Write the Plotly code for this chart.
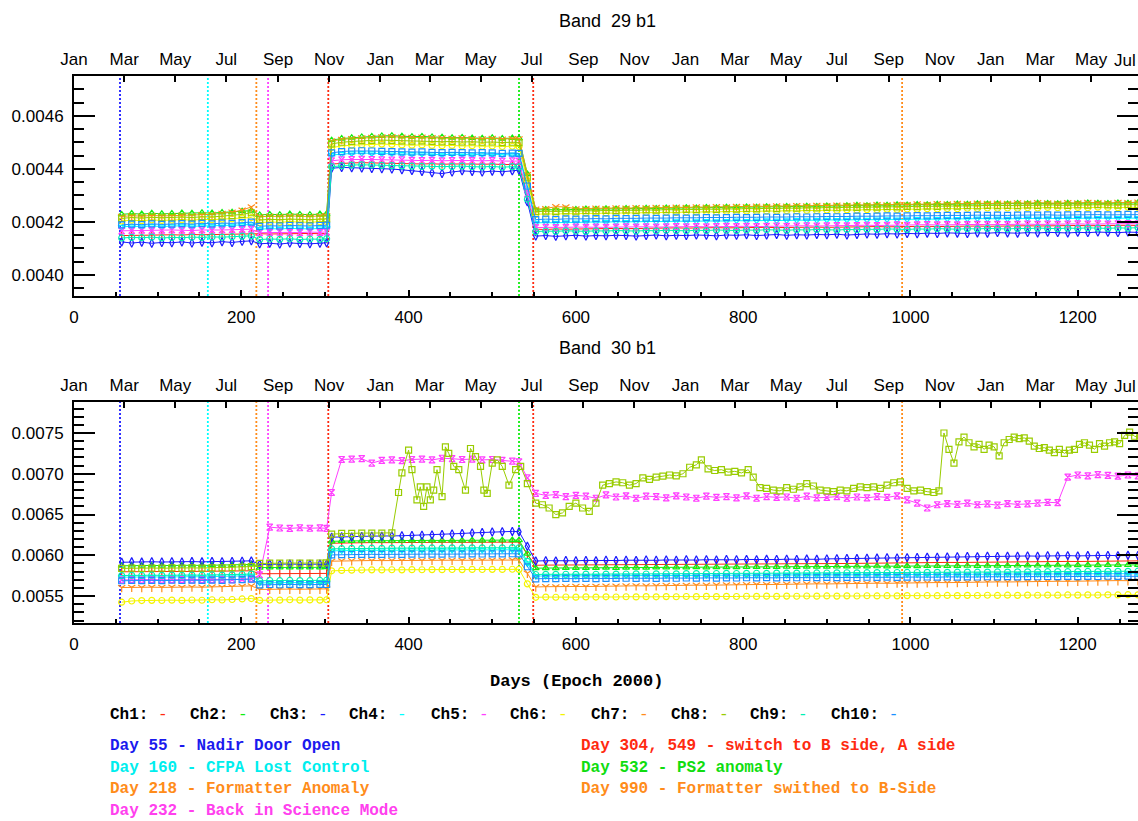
import plotly.graph_objects as go

# ---------------- data (values in units of 1e-6) ----------------
DAYS = [57, 69, 81, 93, 105, 117, 129, 141, 153, 165, 177, 189, 201, 212,
        222, 234, 246, 258, 270, 282, 294, 302,
        308, 320, 332, 344, 356, 368, 380, 392, 404, 416, 428, 440, 452, 464, 476, 488, 500, 512, 524, 532,
        542,
        552, 564, 576, 588, 600, 612, 624, 636, 648, 660, 672, 684, 696, 708, 720, 732, 744, 756, 768, 780,
        792, 804, 816, 828, 840, 852, 864, 876, 888, 900, 912, 924, 936, 948, 960, 972, 984, 996, 1008, 1020,
        1032, 1044, 1056, 1068, 1080, 1092, 1104, 1116, 1128, 1140, 1152, 1164, 1176, 1188, 1200, 1212, 1224,
        1236, 1248, 1260, 1272]

CHANNELS = ["Ch1", "Ch2", "Ch3", "Ch4", "Ch5", "Ch6", "Ch7", "Ch8", "Ch9", "Ch10"]
COLORS = ["#ff2a10", "#10ee10", "#1a1aff", "#00ffff", "#ff40ff",
          "#f4f400", "#ff8c1a", "#99cc00", "#00f0b4", "#1a90ff"]
SYMBOLS = ["line-ns-open", "triangle-up-open", "diamond-tall-open", "triangle-down-open",
           "hourglass-open", "circle-open", "y-down-open", "square-open", "circle-open", "square-open"]

# ---- Band 29 b1 ----
B29_CH1 = ([4148, 4149, 4150, 4149, 4150, 4151, 4150, 4152, 4151, 4152, 4153, 4152, 4154, 4156]
           + [4155, 4154, 4155, 4154, 4155, 4156, 4155, 4156]
           + [4418, 4421, 4422, 4423, 4422, 4421, 4420, 4421, 4419, 4418, 4419, 4417, 4418, 4419, 4418, 4417, 4418, 4416, 4417, 4416]
           + [4290]
           + [4172, 4171, 4173, 4172, 4173, 4174, 4173, 4174, 4175, 4174,
              4175, 4176, 4175, 4176, 4177, 4176, 4177, 4176, 4178, 4177,
              4178, 4177, 4178, 4179, 4178, 4179, 4180, 4179, 4180, 4179,
              4180, 4181, 4180, 4181, 4182, 4181, 4182, 4181, 4182, 4183,
              4182, 4183, 4182, 4183, 4184, 4183, 4184, 4183, 4184, 4185,
              4184, 4185, 4184, 4185, 4186, 4185, 4186, 4185, 4186, 4187, 4186])
B29_CH2 = ([4228, 4231, 4229, 4232, 4230, 4231, 4233, 4232, 4234, 4233, 4235, 4236, 4240, 4242]
           + [4226, 4228, 4227, 4229, 4228, 4227, 4229, 4230]
           + [4508, 4514, 4517, 4520, 4522, 4524, 4525, 4523, 4521, 4522, 4520, 4519, 4517, 4518, 4516, 4515, 4517, 4514, 4516, 4515]
           + [4380]
           + [4244, 4246, 4245, 4247, 4246, 4248, 4247, 4249, 4248, 4250,
              4249, 4251, 4250, 4252, 4251, 4253, 4252, 4254, 4253, 4255,
              4254, 4256, 4255, 4257, 4256, 4258, 4257, 4259, 4258, 4260,
              4259, 4261, 4262, 4261, 4263, 4262, 4264, 4263, 4265, 4264,
              4266, 4265, 4267, 4266, 4268, 4267, 4268, 4267, 4269, 4268,
              4270, 4269, 4268, 4270, 4269, 4271, 4270, 4269, 4271, 4270, 4272])
B29_CH3 = ([4124, 4120, 4123, 4119, 4122, 4121, 4124, 4120, 4123, 4121, 4125, 4122, 4126, 4128]
           + [4117, 4119, 4116, 4120, 4118, 4117, 4119, 4121]
           + [4402, 4405, 4404, 4403, 4401, 4400, 4399, 4396, 4393, 4390, 4385, 4382, 4388, 4392, 4390, 4388, 4391, 4389, 4392, 4395]
           + [4275]
           + [4146, 4148, 4145, 4147, 4149, 4146, 4148, 4147, 4149, 4148,
              4146, 4148, 4150, 4147, 4149, 4148, 4150, 4149, 4147, 4150,
              4149, 4151, 4148, 4150, 4152, 4149, 4151, 4150, 4152, 4151,
              4153, 4150, 4152, 4154, 4153, 4155, 4154, 4156, 4155, 4157,
              4156, 4158, 4157, 4156, 4158, 4157, 4159, 4158, 4157, 4159,
              4158, 4160, 4159, 4158, 4160, 4159, 4161, 4160, 4159, 4161, 4160])
B29_CH4 = ([4181, 4183, 4182, 4184, 4182, 4183, 4185, 4183, 4184, 4185, 4186, 4185, 4188, 4190]
           + [4172, 4174, 4173, 4175, 4174, 4173, 4175, 4176]
           + [4452, 4456, 4458, 4459, 4458, 4457, 4458, 4456, 4455, 4456, 4454, 4453, 4455, 4454, 4453, 4455, 4454, 4452, 4453, 4452]
           + [4325]
           + [4196, 4197, 4196, 4198, 4197, 4199, 4198, 4199, 4200, 4199,
              4200, 4201, 4200, 4201, 4202, 4201, 4202, 4203, 4202, 4203,
              4204, 4203, 4204, 4205, 4204, 4205, 4206, 4205, 4206, 4207,
              4206, 4207, 4208, 4207, 4208, 4209, 4208, 4209, 4210, 4209,
              4210, 4211, 4210, 4211, 4212, 4211, 4212, 4211, 4212, 4213,
              4212, 4213, 4212, 4213, 4214, 4213, 4214, 4213, 4214, 4215, 4214])
B29_CH5 = ([4166, 4167, 4168, 4167, 4168, 4169, 4168, 4167, 4169, 4168, 4169, 4170, 4171, 4172]
           + [4159, 4160, 4161, 4160, 4159, 4161, 4160, 4162]
           + [4430, 4434, 4435, 4436, 4435, 4434, 4433, 4434, 4432, 4431, 4432, 4430, 4431, 4432, 4431, 4430, 4431, 4429, 4430, 4429]
           + [4305]
           + [4178, 4179, 4178, 4179, 4180, 4179, 4180, 4179, 4180, 4181,
              4180, 4181, 4180, 4181, 4182, 4181, 4182, 4181, 4182, 4183,
              4182, 4183, 4182, 4183, 4184, 4183, 4184, 4185, 4184, 4185,
              4186, 4185, 4186, 4187, 4186, 4187, 4188, 4187, 4188, 4189,
              4188, 4189, 4188, 4189, 4190, 4189, 4190, 4189, 4190, 4191,
              4190, 4191, 4190, 4191, 4192, 4191, 4192, 4191, 4192, 4193, 4192])
B29_CH6 = ([4203, 4206, 4204, 4207, 4205, 4206, 4208, 4206, 4209, 4208, 4210, 4211, 4214, 4216]
           + [4197, 4199, 4198, 4200, 4199, 4198, 4200, 4201]
           + [4480, 4486, 4489, 4491, 4492, 4493, 4492, 4490, 4489, 4490, 4488, 4487, 4488, 4486, 4487, 4485, 4486, 4484, 4485, 4484]
           + [4355]
           + [4228, 4230, 4229, 4231, 4230, 4232, 4231, 4233, 4232, 4234,
              4233, 4235, 4234, 4236, 4235, 4237, 4236, 4238, 4237, 4239,
              4238, 4240, 4239, 4241, 4240, 4242, 4241, 4243, 4242, 4244,
              4243, 4245, 4244, 4246, 4245, 4247, 4246, 4248, 4247, 4249,
              4248, 4250, 4249, 4251, 4250, 4252, 4251, 4252, 4251, 4253,
              4252, 4254, 4253, 4252, 4254, 4253, 4255, 4254, 4253, 4255, 4254])
B29_CH7 = ([4220, 4223, 4221, 4224, 4222, 4223, 4225, 4224, 4227, 4228, 4232, 4236, 4244, 4256]
           + [4219, 4221, 4220, 4222, 4221, 4220, 4222, 4223]
           + [4505, 4511, 4514, 4516, 4518, 4520, 4521, 4519, 4518, 4519, 4517, 4516, 4515, 4516, 4514, 4513, 4515, 4512, 4514, 4513]
           + [4378]
           + [4248, 4250, 4257, 4256, 4249, 4250, 4251, 4250, 4252, 4251,
              4253, 4252, 4254, 4253, 4255, 4254, 4256, 4255, 4257, 4256,
              4258, 4257, 4259, 4258, 4260, 4259, 4261, 4260, 4262, 4261,
              4263, 4262, 4264, 4263, 4265, 4264, 4266, 4265, 4267, 4266,
              4268, 4267, 4269, 4268, 4270, 4269, 4270, 4269, 4271, 4270,
              4272, 4271, 4270, 4272, 4271, 4273, 4272, 4271, 4273, 4272, 4274])
B29_CH8 = ([4213, 4216, 4214, 4217, 4215, 4216, 4218, 4216, 4219, 4218, 4221, 4223, 4228, 4234]
           + [4207, 4209, 4208, 4210, 4209, 4208, 4210, 4211]
           + [4494, 4500, 4503, 4506, 4507, 4508, 4507, 4505, 4504, 4505, 4503, 4502, 4503, 4501, 4502, 4500, 4501, 4499, 4500, 4499]
           + [4368]
           + [4238, 4240, 4239, 4241, 4240, 4242, 4241, 4243, 4242, 4244,
              4243, 4245, 4244, 4246, 4245, 4247, 4246, 4248, 4247, 4249,
              4248, 4250, 4249, 4251, 4250, 4252, 4251, 4253, 4252, 4254,
              4253, 4255, 4254, 4256, 4255, 4257, 4256, 4258, 4257, 4259,
              4258, 4260, 4259, 4261, 4260, 4262, 4261, 4262, 4261, 4263,
              4262, 4264, 4263, 4262, 4264, 4263, 4265, 4264, 4263, 4265, 4264])
B29_CH9 = ([4139, 4141, 4140, 4142, 4139, 4141, 4140, 4142, 4141, 4143, 4142, 4144, 4146, 4147]
           + [4133, 4135, 4134, 4136, 4133, 4135, 4134, 4136]
           + [4408, 4412, 4414, 4415, 4414, 4413, 4412, 4411, 4410, 4409, 4410, 4408, 4409, 4410, 4408, 4407, 4409, 4406, 4408, 4407]
           + [4285]
           + [4163, 4165, 4164, 4166, 4165, 4164, 4166, 4165, 4167, 4166,
              4165, 4167, 4166, 4168, 4167, 4166, 4168, 4167, 4169, 4168,
              4167, 4169, 4168, 4170, 4169, 4168, 4170, 4169, 4171, 4170,
              4169, 4171, 4170, 4172, 4171, 4173, 4172, 4171, 4173, 4172,
              4174, 4173, 4172, 4174, 4173, 4175, 4174, 4173, 4175, 4174,
              4176, 4175, 4174, 4176, 4175, 4177, 4176, 4175, 4177, 4176, 4178])
B29_CH10 = ([4188, 4191, 4189, 4192, 4190, 4191, 4193, 4191, 4194, 4192, 4195, 4194, 4197, 4199]
            + [4183, 4185, 4184, 4186, 4185, 4184, 4186, 4187]
            + [4460, 4465, 4467, 4468, 4467, 4466, 4465, 4464, 4463, 4464, 4462, 4461, 4462, 4461, 4460, 4461, 4460, 4458, 4459, 4458]
            + [4335]
            + [4208, 4210, 4209, 4211, 4210, 4211, 4212, 4211, 4213, 4212,
               4213, 4214, 4213, 4214, 4215, 4214, 4215, 4216, 4215, 4216,
               4217, 4216, 4217, 4218, 4217, 4218, 4219, 4218, 4219, 4220,
               4219, 4220, 4221, 4220, 4221, 4222, 4221, 4222, 4223, 4222,
               4223, 4224, 4223, 4224, 4225, 4224, 4225, 4224, 4225, 4226,
               4225, 4226, 4225, 4226, 4227, 4226, 4227, 4226, 4227, 4228, 4227])

# ---- Band 30 b1 ----
B30_CH1 = ([5798, 5800, 5799, 5801, 5800, 5802, 5801, 5803, 5802, 5804, 5803, 5805, 5808, 5810]
           + [5774, 5776, 5775, 5777, 5776, 5775, 5777, 5778]
           + [6148, 6152, 6154, 6155, 6156, 6155, 6157, 6156, 6158, 6157, 6159, 6158, 6160, 6159, 6161, 6160, 6162, 6161, 6163, 6162]
           + [6010]
           + [5878, 5880, 5879, 5881, 5882, 5881, 5883, 5884, 5883, 5885,
              5886, 5885, 5887, 5888, 5887, 5889, 5890, 5889, 5891, 5892,
              5891, 5893, 5894, 5893, 5895, 5896, 5895, 5897, 5898, 5897,
              5899, 5900, 5902, 5904, 5903, 5905, 5906, 5908, 5910, 5909,
              5911, 5913, 5912, 5914, 5916, 5915, 5917, 5919, 5918, 5920,
              5922, 5921, 5923, 5925, 5924, 5926, 5928, 5927, 5929, 5931, 5932])
B30_CH2 = ([5872, 5875, 5873, 5876, 5874, 5877, 5875, 5878, 5876, 5879, 5877, 5880, 5884, 5888]
           + [5850, 5852, 5851, 5853, 5852, 5851, 5853, 5855]
           + [6172, 6176, 6178, 6179, 6180, 6179, 6181, 6180, 6182, 6181, 6183, 6182, 6184, 6183, 6185, 6184, 6186, 6185, 6187, 6186]
           + [6020]
           + [5842, 5844, 5843, 5845, 5846, 5845, 5847, 5848, 5847, 5849,
              5850, 5849, 5851, 5852, 5851, 5853, 5854, 5853, 5855, 5856,
              5855, 5857, 5858, 5857, 5859, 5860, 5859, 5861, 5862, 5861,
              5863, 5864, 5863, 5865, 5866, 5865, 5867, 5868, 5867, 5869,
              5870, 5869, 5871, 5872, 5871, 5873, 5874, 5873, 5875, 5876,
              5875, 5877, 5878, 5877, 5879, 5880, 5879, 5881, 5882, 5881, 5883])
B30_CH3 = ([5915, 5920, 5917, 5921, 5918, 5922, 5919, 5923, 5920, 5924, 5921, 5925, 5928, 5932]
           + [5888, 5892, 5889, 5893, 5890, 5891, 5894, 5892]
           + [6222, 6228, 6226, 6232, 6235, 6233, 6238, 6240, 6244, 6246, 6250, 6255, 6262, 6268, 6275, 6280, 6286, 6290, 6293, 6290]
           + [6110]
           + [5930, 5934, 5932, 5936, 5933, 5937, 5935, 5939, 5936, 5940,
              5938, 5942, 5939, 5943, 5941, 5945, 5942, 5946, 5944, 5948,
              5945, 5949, 5947, 5951, 5948, 5952, 5950, 5954, 5951, 5956,
              5958, 5962, 5960, 5964, 5966, 5970, 5968, 5972, 5974, 5978,
              5976, 5980, 5982, 5986, 5984, 5988, 5986, 5990, 5988, 5992,
              5990, 5994, 5992, 5996, 5993, 5997, 5995, 5999, 5996, 6000, 5998])
B30_CH4 = ([5732, 5735, 5733, 5736, 5734, 5737, 5735, 5738, 5736, 5739, 5737, 5740, 5745, 5750]
           + [5662, 5665, 5663, 5666, 5664, 5663, 5666, 5668]
           + [6055, 6058, 6060, 6061, 6062, 6061, 6063, 6062, 6064, 6063, 6065, 6064, 6066, 6065, 6067, 6066, 6068, 6067, 6069, 6068]
           + [5900]
           + [5745, 5747, 5746, 5748, 5747, 5749, 5748, 5750, 5749, 5751,
              5750, 5752, 5751, 5753, 5752, 5754, 5753, 5755, 5754, 5756,
              5755, 5757, 5756, 5758, 5757, 5759, 5758, 5760, 5759, 5761,
              5760, 5762, 5761, 5763, 5762, 5764, 5763, 5765, 5764, 5766,
              5765, 5767, 5766, 5768, 5767, 5769, 5768, 5770, 5769, 5771,
              5770, 5772, 5771, 5773, 5772, 5774, 5773, 5775, 5774, 5776, 5775])
B30_CH5 = ([5698, 5702, 5700, 5703, 5699, 5701, 5704, 5700, 5703, 5701, 5705, 5702, 5706, 5710]
           + [5760, 6345, 6335, 6330, 6338, 6332, 6336, 6330]
           + [6770, 7175, 7180, 7185, 7130, 7165, 7170, 7160, 7175, 7180, 7170, 7190, 7185, 7175, 7180, 7170, 7175, 7165, 7155, 7145]
           + [6950]
           + [6760, 6735, 6745, 6720, 6735, 6725, 6700, 6740, 6715, 6730,
              6700, 6725, 6720, 6705, 6730, 6715, 6700, 6725, 6710, 6720,
              6705, 6730, 6700, 6720, 6710, 6715, 6700, 6725, 6705, 6710,
              6720, 6700, 6715, 6705, 6720, 6710, 6730, 6680, 6640, 6580,
              6620, 6635, 6625, 6640, 6620, 6630, 6615, 6635, 6625, 6630,
              6640, 6650, 6645, 6960, 6985, 6975, 6990, 6980, 6970, 6985, 6975])
B30_CH6 = ([5425, 5440, 5445, 5448, 5446, 5450, 5447, 5452, 5449, 5455, 5452, 5458, 5465, 5470]
           + [5448, 5452, 5450, 5455, 5451, 5453, 5450, 5455]
           + [5810, 5815, 5818, 5820, 5822, 5821, 5823, 5822, 5824, 5823, 5825, 5824, 5826, 5825, 5827, 5826, 5828, 5827, 5829, 5828]
           + [5650]
           + [5485, 5488, 5486, 5489, 5487, 5490, 5488, 5491, 5489, 5492,
              5490, 5493, 5491, 5494, 5492, 5495, 5493, 5496, 5494, 5497,
              5495, 5498, 5496, 5499, 5497, 5500, 5498, 5501, 5499, 5502,
              5500, 5503, 5501, 5504, 5502, 5505, 5503, 5506, 5504, 5507,
              5505, 5508, 5506, 5509, 5507, 5510, 5508, 5511, 5509, 5512,
              5510, 5513, 5511, 5514, 5512, 5515, 5513, 5516, 5514, 5517, 5515])
B30_CH7 = ([5605, 5608, 5606, 5609, 5607, 5610, 5608, 5611, 5609, 5612, 5610, 5614, 5620, 5625]
           + [5582, 5585, 5583, 5586, 5584, 5583, 5586, 5588]
           + [5928, 5932, 5934, 5935, 5936, 5935, 5937, 5936, 5938, 5937, 5939, 5938, 5940, 5939, 5941, 5940, 5942, 5941, 5943, 5942]
           + [5780]
           + [5612, 5615, 5613, 5616, 5618, 5617, 5620, 5622, 5621, 5624,
              5626, 5625, 5628, 5630, 5629, 5632, 5634, 5633, 5636, 5638,
              5637, 5640, 5642, 5641, 5644, 5646, 5645, 5648, 5650, 5649,
              5652, 5654, 5653, 5656, 5658, 5657, 5660, 5662, 5661, 5664,
              5666, 5665, 5668, 5670, 5669, 5672, 5674, 5673, 5676, 5678,
              5677, 5680, 5682, 5681, 5684, 5686, 5685, 5688, 5690, 5689, 5692])
B30_CH9 = ([5752, 5755, 5753, 5756, 5754, 5757, 5755, 5758, 5756, 5759, 5757, 5760, 5765, 5770]
           + [5688, 5691, 5689, 5692, 5690, 5689, 5692, 5694]
           + [6080, 6083, 6085, 6086, 6087, 6086, 6088, 6087, 6089, 6088, 6090, 6089, 6091, 6090, 6092, 6091, 6093, 6092, 6094, 6093]
           + [5925]
           + [5765, 5767, 5766, 5768, 5767, 5769, 5768, 5770, 5769, 5771,
              5772, 5771, 5773, 5774, 5773, 5775, 5776, 5775, 5777, 5778,
              5777, 5779, 5780, 5779, 5781, 5782, 5781, 5783, 5784, 5783,
              5785, 5786, 5785, 5787, 5788, 5787, 5789, 5790, 5789, 5791,
              5792, 5791, 5793, 5794, 5793, 5795, 5796, 5795, 5797, 5798,
              5797, 5799, 5800, 5799, 5801, 5802, 5801, 5803, 5804, 5803, 5805])
B30_CH10 = ([5688, 5692, 5689, 5693, 5690, 5694, 5691, 5695, 5692, 5696, 5693, 5697, 5702, 5708]
            + [5638, 5642, 5639, 5643, 5640, 5641, 5644, 5642]
            + [6005, 6008, 6010, 6011, 6012, 6011, 6013, 6012, 6014, 6013, 6015, 6014, 6016, 6015, 6017, 6016, 6018, 6017, 6019, 6018]
            + [5860]
            + [5712, 5715, 5713, 5716, 5714, 5717, 5715, 5718, 5716, 5719,
               5717, 5720, 5718, 5721, 5719, 5722, 5720, 5723, 5721, 5724,
               5722, 5725, 5723, 5726, 5724, 5727, 5725, 5728, 5726, 5729,
               5727, 5730, 5728, 5731, 5729, 5732, 5730, 5733, 5731, 5734,
               5732, 5735, 5733, 5736, 5734, 5737, 5735, 5738, 5736, 5739,
               5737, 5740, 5738, 5741, 5739, 5742, 5740, 5743, 5741, 5744, 5742])

# Ch8 of band 30 is noisy, sampled on its own finer day grid
B30_CH8_DAYS = ([57, 69, 81, 93, 105, 117, 129, 141, 153, 165, 177, 189, 201, 212]
                + [222, 234, 246, 258, 270, 282, 294, 302]
                + [308, 320, 332, 344, 356, 368, 380]
                + [388, 392, 400, 404, 410, 414, 418, 422, 426, 430, 434, 440, 444, 448, 454,
                   460, 468, 474, 480, 486, 490, 494, 500, 506, 512, 520, 528, 534]
                + [542]
                + [552, 560, 568, 576, 584, 592, 600, 608, 616, 624,
                   632, 640, 648, 656, 664, 672, 680, 688, 696, 704,
                   712, 720, 728, 736, 744, 750, 758, 766, 774, 782,
                   790, 798, 806, 812, 820, 828, 836, 844, 852, 860,
                   868, 876, 884, 892, 900, 908, 916, 924, 932, 940,
                   948, 956, 964, 972, 980, 988, 996, 1004, 1012, 1020,
                   1028, 1034, 1040, 1046, 1052, 1058, 1064, 1070, 1076, 1082,
                   1088, 1094, 1100, 1106, 1112, 1118, 1124, 1130, 1136, 1142,
                   1148, 1154, 1160, 1166, 1172, 1178, 1184, 1190, 1196, 1202,
                   1208, 1214, 1220, 1226, 1232, 1238, 1244, 1250, 1256, 1262,
                   1268, 1274])
B30_CH8 = ([5840, 5843, 5841, 5844, 5842, 5845, 5843, 5846, 5844, 5847, 5845, 5848, 5855, 5862]
           + [5900, 5905, 5903, 5906, 5904, 5903, 5906, 5908]
           + [6260, 6268, 6270, 6272, 6271, 6273, 6275]
           + [6770, 7010, 7290, 7050, 6680, 6840, 6600, 6840, 6680, 6800, 7050, 6720, 7330, 7250, 7090,
              7050, 6800, 7310, 7210, 7090, 6800, 6760, 7130, 7170, 7090, 6860, 7050, 7090]
           + [6880]
           + [6640, 6620, 6580, 6500, 6520, 6600, 6640, 6580, 6540, 6640,
              6860, 6880, 6900, 6890, 6860, 6880, 6950, 6930, 6960, 6970,
              6985, 6975, 7000, 7080, 7110, 7170, 7060, 7040, 7050, 7020,
              7030, 7010, 7050, 6960, 6830, 6820, 6800, 6790, 6830, 6810,
              6840, 6880, 6850, 6800, 6790, 6780, 6800, 6790, 6820, 6840,
              6830, 6840, 6820, 6860, 6890, 6900, 6820, 6790, 6800, 6780,
              6770, 6790, 7500, 7300, 7130, 7390, 7450, 7380, 7330, 7360,
              7300, 7350, 7330, 7220, 7380, 7420, 7450, 7430, 7440, 7400,
              7340, 7310, 7320, 7290, 7260, 7300, 7250, 7290, 7300, 7360,
              7380, 7350, 7300, 7370, 7340, 7380, 7390, 7370, 7470, 7510,
              7460, 7440])

B29_SERIES = [B29_CH1, B29_CH2, B29_CH3, B29_CH4, B29_CH5, B29_CH6, B29_CH7, B29_CH8, B29_CH9, B29_CH10]
B30_SERIES = [B30_CH1, B30_CH2, B30_CH3, B30_CH4, B30_CH5, B30_CH6, B30_CH7, B30_CH8, B30_CH9, B30_CH10]
B30_DAYS = [DAYS, DAYS, DAYS, DAYS, DAYS, DAYS, DAYS, B30_CH8_DAYS, DAYS, DAYS]

EVENT_DAYS = [55, 160, 218, 232, 304, 532, 549, 990]
EVENT_COLORS = ["#1a1aff", "#00ffff", "#ff8c1a", "#ff40ff", "#ff2a10", "#10ee10", "#ff2a10", "#ff8c1a"]

MONTH_DAYS = [0, 60, 121, 182, 244, 305, 366, 425, 486, 547, 609, 670, 731, 790, 851, 912, 974, 1035,
              1096, 1155, 1216, 1277]
MONTH_LABELS = ["Jan", "Mar", "May", "Jul", "Sep", "Nov", "Jan", "Mar", "May", "Jul", "Sep", "Nov",
                "Jan", "Mar", "May", "Jul", "Sep", "Nov", "Jan", "Mar", "May", "Jul"]
DAY_TICKS = [0, 200, 400, 600, 800, 1000, 1200]

NOTES_LEFT = ["Day 55 - Nadir Door Open", "Day 160 - CFPA Lost Control",
              "Day 218 - Formatter Anomaly", "Day 232 - Back in Science Mode"]
NOTES_LEFT_COLORS = ["#1a1aee", "#00eeee", "#ff8c1a", "#ff40ee"]
NOTES_RIGHT = ["Day 304, 549 - switch to B side, A side", "Day 532 - PS2 anomaly",
               "Day 990 - Formatter swithed to B-Side"]
NOTES_RIGHT_COLORS = ["#ff2a10", "#10dd10", "#ff8c1a"]

# ---------------- layout geometry ----------------
W, H = 1138, 821
XMAX = 1272
X_DOM = [74 / W, 1.0]
P1 = [1 - 296 / H, 1 - 76 / H]
P2 = [1 - 623 / H, 1 - 402 / H]
AX_FONT = dict(family="Liberation Sans", size=17, color="black")
TXT_FONT = "Liberation Mono"

fig = go.Figure()


def add_band(series_list, days_list, xa, ya):
    for i, vals in enumerate(series_list):
        d = days_list[i]
        n = min(len(d), len(vals))
        fig.add_trace(go.Scatter(
            x=d[:n], y=[v * 1e-6 for v in vals[:n]],
            xaxis=xa, yaxis=ya, mode="lines+markers",
            marker=dict(symbol=SYMBOLS[i], size=6, color=COLORS[i], line=dict(color=COLORS[i], width=1.2)),
            line=dict(color=COLORS[i], width=1),
            name=CHANNELS[i], showlegend=False, hoverinfo="skip"))


add_band(B29_SERIES, [DAYS] * 10, "x", "y")
add_band(B30_SERIES, B30_DAYS, "x2", "y2")

# invisible traces so the month axes are drawn
for xa, ya in (("x3", "y"), ("x4", "y2")):
    fig.add_trace(go.Scatter(x=[0], y=[0], xaxis=xa, yaxis=ya, mode="markers",
                             marker=dict(opacity=0), showlegend=False, hoverinfo="skip"))

shapes = []
for xr, yr in (("x", "y domain"), ("x2", "y2 domain")):
    for d, c in zip(EVENT_DAYS, EVENT_COLORS):
        shapes.append(dict(type="line", xref=xr, yref=yr, x0=d, x1=d, y0=0, y1=1,
                           line=dict(color=c, width=1.8, dash="2px,2px"), layer="below"))


def day_axis(anchor, dom=None):
    a = dict(anchor=anchor, range=[0, XMAX], tickmode="array", tickvals=DAY_TICKS,
             ticks="inside", ticklen=6, tickwidth=1.5, tickcolor="black",
             minor=dict(tickmode="linear", tick0=0, dtick=50, ticks="inside", ticklen=4,
                        tickwidth=1.5, tickcolor="black", showgrid=False),
             showline=True, linecolor="black", linewidth=2, showgrid=False, zeroline=False,
             tickfont=AX_FONT, ticklabelstandoff=5, automargin=False)
    if dom:
        a["domain"] = dom
    return a


def month_axis(overlay, anchor):
    return dict(overlaying=overlay, anchor=anchor, side="top", range=[0, XMAX],
                tickmode="array", tickvals=MONTH_DAYS, ticktext=MONTH_LABELS,
                ticks="inside", ticklen=6, tickwidth=1.5, tickcolor="black",
                showline=True, linecolor="black", linewidth=2, showgrid=False, zeroline=False,
                tickfont=AX_FONT, ticklabelstandoff=2, automargin=False)


def val_axis(anchor, dom, rng, dtick, mdtick):
    return dict(anchor=anchor, domain=dom, range=rng, tickmode="linear", tick0=0, dtick=dtick,
                tickformat=".4f", ticks="inside", ticklen=21, tickwidth=1.5, tickcolor="black",
                minor=dict(tickmode="linear", tick0=0, dtick=mdtick, ticks="inside", ticklen=10,
                           tickwidth=1.5, tickcolor="black", showgrid=False),
                mirror="ticks", showline=True, linecolor="black", linewidth=2,
                showgrid=False, zeroline=False, tickfont=AX_FONT, ticklabelstandoff=5,
                automargin=False)


annotations = []
for txt, ypx in (("Band  29 b1", 21), ("Band  30 b1", 348)):
    annotations.append(dict(xref="paper", yref="paper", x=607 / W, y=1 - ypx / H, text=txt,
                            showarrow=False, xanchor="center", yanchor="middle",
                            font=dict(family="Liberation Sans", size=18, color="black")))

# last month label (beyond the day range) kept fully visible at the right edge
for ytop in (P1[1], P2[1]):
    annotations.append(dict(xref="paper", yref="paper", x=1.0, y=ytop, yshift=4,
                            text=MONTH_LABELS[-1], showarrow=False, xanchor="right",
                            yanchor="bottom", font=AX_FONT))

annotations.append(dict(xref="paper", yref="paper", x=577 / W, y=1 - 681 / H,
                        text="<b>Days (Epoch 2000)</b>", showarrow=False, xanchor="center",
                        yanchor="middle", font=dict(family=TXT_FONT, size=17, color="black")))

CH_X = [108, 188, 268, 347, 429, 508, 589, 669, 748, 829]
for i, ch in enumerate(CHANNELS):
    annotations.append(dict(xref="paper", yref="paper", x=CH_X[i] / W, y=1 - 715 / H,
                            text=f"<b>{ch}:</b> <span style='color:{COLORS[i]}'>-</span>",
                            showarrow=False, xanchor="left", yanchor="middle",
                            font=dict(family=TXT_FONT, size=16, color="black")))

for j, (t, c) in enumerate(zip(NOTES_LEFT, NOTES_LEFT_COLORS)):
    annotations.append(dict(xref="paper", yref="paper", x=108 / W, y=1 - (746 + 21.7 * j) / H,
                            text=f"<b>{t}</b>", showarrow=False, xanchor="left", yanchor="middle",
                            font=dict(family=TXT_FONT, size=16, color=c)))
for j, (t, c) in enumerate(zip(NOTES_RIGHT, NOTES_RIGHT_COLORS)):
    annotations.append(dict(xref="paper", yref="paper", x=579 / W, y=1 - (746 + 21.7 * j) / H,
                            text=f"<b>{t}</b>", showarrow=False, xanchor="left", yanchor="middle",
                            font=dict(family=TXT_FONT, size=16, color=c)))

fig.update_layout(
    width=W, height=H, autosize=False,
    margin=dict(l=0, r=0, t=0, b=0, pad=0, autoexpand=False),
    paper_bgcolor="white", plot_bgcolor="white",
    showlegend=False,
    xaxis=day_axis("y", X_DOM),
    yaxis=val_axis("x", P1, [0.00392, 0.00475], 0.0002, 0.00005),
    xaxis2=day_axis("y2", X_DOM),
    yaxis2=val_axis("x2", P2, [0.00517, 0.00788], 0.0005, 0.0001),
    xaxis3=month_axis("x", "y"),
    xaxis4=month_axis("x2", "y2"),
    shapes=shapes,
    annotations=annotations,
)

fig.write_html("out.html")
